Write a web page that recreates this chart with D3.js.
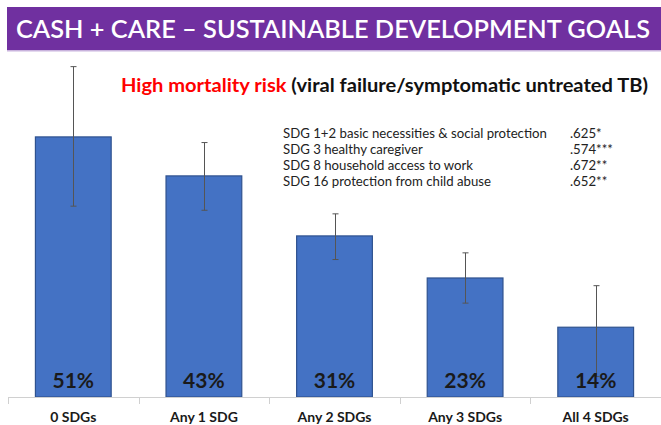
<!DOCTYPE html>
<html>
<head>
<meta charset="utf-8">
<script src="https://cdn.jsdelivr.net/npm/d3@7"></script>
<style>
  body { margin: 0; background: #fff; }
  text { font-family: Lato, "Open Sans", sans-serif; }
</style>
</head>
<body>
<div id="wrapper"></div>
<script>
// values
const categories = ["0 SDGs", "Any 1 SDG", "Any 2 SDGs", "Any 3 SDGs", "All 4 SDGs"]
const riskValues = [50.7, 43.1, 31.4, 23.2, 13.6]
const ciLower = [37.2, 36.4, 26.8, 18.3, 4.0]
const ciUpper = [64.4, 49.6, 35.7, 28.1, 21.7]
const sdgNames = [
  "SDG 1+2 basic necessities & social protection",
  "SDG 3 healthy caregiver",
  "SDG 8 household access to work",
  "SDG 16 protection from child abuse",
]
const sdgOdds = [".625*", ".574***", ".672**", ".652**"]

let dimensions = {
  width: 661,
  height: 425,
  margin: { top: 0, right: 0, bottom: 28, left: 8 },
}
const baseY = 397

const svg = d3.select("#wrapper")
  .append("svg")
    .attr("width", dimensions.width)
    .attr("height", dimensions.height)

// header band
svg.append("rect")
  .attr("x", 7).attr("y", 7)
  .attr("width", dimensions.width - 7).attr("height", 43)
  .attr("fill", "#7030A0")
svg.append("rect")
  .attr("x", 7).attr("y", 50)
  .attr("width", dimensions.width - 7).attr("height", 1.5)
  .attr("fill", "#c9b3dd")
svg.append("text")
  .attr("x", 16).attr("y", 37.5)
  .attr("fill", "#fff")
  .attr("font-size", 25)
  .attr("font-weight", 600)
  .attr("textLength", 634)
  .attr("lengthAdjust", "spacingAndGlyphs")
  .text("CASH + CARE \u2013 SUSTAINABLE DEVELOPMENT GOALS")

// scales
const x = d3.scaleBand()
  .domain(categories)
  .range([dimensions.margin.left, dimensions.width])
  .paddingInner(0.42)
  .paddingOuter(0.21)

const y = d3.scaleLinear()
  .domain([0, 60])
  .range([baseY, baseY - 60 * 5.13])

// bars
const bars = svg.append("g")
bars.selectAll("rect")
  .data(riskValues)
  .join("rect")
    .attr("x", (d, i) => x(categories[i]))
    .attr("y", d => y(d))
    .attr("width", x.bandwidth())
    .attr("height", d => y(0) - y(d))
    .attr("fill", "#4472C4")
    .attr("stroke", "#2F528F")
    .attr("stroke-width", 1.2)

// error bars
const errs = svg.append("g")
  .attr("stroke", "#555")
  .attr("stroke-width", 1)
categories.forEach((c, i) => {
  const cx = Math.round(x(c) + x.bandwidth() / 2) + 0.5
  errs.append("line")
    .attr("x1", cx).attr("x2", cx)
    .attr("y1", y(ciUpper[i])).attr("y2", y(ciLower[i]))
  errs.append("line")
    .attr("x1", cx - 3).attr("x2", cx + 3)
    .attr("y1", y(ciUpper[i])).attr("y2", y(ciUpper[i]))
  errs.append("line")
    .attr("x1", cx - 3).attr("x2", cx + 3)
    .attr("y1", y(ciLower[i])).attr("y2", y(ciLower[i]))
})

// value labels
svg.append("g").selectAll("text")
  .data(riskValues)
  .join("text")
    .attr("x", (d, i) => x(categories[i]) + x.bandwidth() / 2)
    .attr("y", 387.5)
    .attr("text-anchor", "middle")
    .attr("font-size", 21)
    .attr("font-weight", 700)
    .attr("fill", "#1a1a1a")
    .text(d => Math.round(d) + "%")

// axis
const axis = svg.append("g").attr("stroke", "#d0d0d0").attr("stroke-width", 1)
axis.append("line")
  .attr("x1", x.range()[0]).attr("x2", x.range()[1])
  .attr("y1", baseY + 0.5).attr("y2", baseY + 0.5)
const bounds = categories.map(c => x(c) - x.step() * x.paddingInner() / 2)
bounds.forEach(b => {
  axis.append("line")
    .attr("x1", Math.round(b) + 0.5).attr("x2", Math.round(b) + 0.5)
    .attr("y1", baseY).attr("y2", baseY + 7)
})

svg.append("g").selectAll("text")
  .data(categories)
  .join("text")
    .attr("x", d => x(d) + x.bandwidth() / 2)
    .attr("y", 422)
    .attr("text-anchor", "middle")
    .attr("font-size", 14)
    .attr("font-weight", 700)
    .attr("fill", "#1a1a1a")
    .text(d => d)

// subtitle
const sub = svg.append("text")
  .attr("x", 121).attr("y", 91.5)
  .attr("font-size", 18)
  .attr("font-weight", 700)
  .attr("textLength", 527)
  .attr("lengthAdjust", "spacingAndGlyphs")
sub.append("tspan").attr("fill", "#ff0000").text("High mortality risk ")
sub.append("tspan").attr("fill", "#111").text("(viral failure/symptomatic untreated TB)")

// legend list
const legend = svg.append("g")
legend.selectAll("text.name")
  .data(sdgNames)
  .join("text")
    .attr("class", "name")
    .attr("x", 283)
    .attr("y", (d, i) => 137.7 + i * 16.1)
    .attr("font-size", 13.2)
    .attr("fill", "#222")
    .text(d => d)
legend.selectAll("text.odds")
  .data(sdgOdds)
  .join("text")
    .attr("class", "odds")
    .attr("x", 570)
    .attr("y", (d, i) => 137.7 + i * 16.1)
    .attr("font-size", 13.2)
    .attr("fill", "#222")
    .text(d => d)
</script>
</body>
</html>
